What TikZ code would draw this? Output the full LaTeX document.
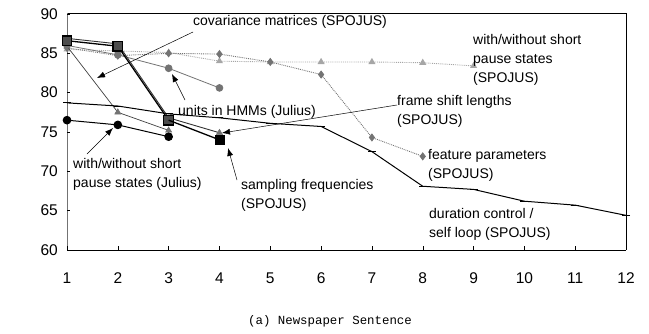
\documentclass[tikz,border=0pt]{standalone}
\usepackage{fontspec}
\setmainfont{Liberation Sans}
\setmonofont{Liberation Mono}
\usetikzlibrary{plotmarks,arrows.meta}

\definecolor{midgray}{gray}{0.45}
\definecolor{litegray}{gray}{0.65}

\tikzset{
  lbl/.style={anchor=north west,inner sep=0pt,align=left,
    font=\fontsize{14bp}{19bp}\selectfont,execute at begin node=\strut},
  ticklbl/.style={inner sep=0pt,font=\fontsize{15.5bp}{17bp}\selectfont},
}

\begin{document}
\begin{tikzpicture}[x=1bp,y=1bp]
\useasboundingbox (0,0) rectangle (649,333);

% plot area
\draw[black,line width=0.6bp] (67,320) -- (626,320) -- (626,83);
\draw[midgray,line width=0.6bp] (67,320) -- (67,83);
\draw[black,line width=0.8bp] (67,83) -- (626,83);

\begin{scope}[shift={(16.18bp,-389.0bp)},x=50.82bp,y=7.867bp]
  % ticks and tick labels
  \foreach \i in {1,...,12} {
    \draw[line width=0.5bp] (\i,60) -- ++(0,4bp);
    \node[ticklbl] (xl\i) at ([yshift=-28bp]\i,60) {\i};
  }
  \foreach \v in {60,65,...,90} {
    \draw[line width=0.5bp] (1,\v) -- ++(3bp,0);
    \node[ticklbl,anchor=east] (yl\v) at ([xshift=-9bp]1,\v) {\v};
  }

  % with/without short pause states (SPOJUS)
  \draw[litegray,densely dotted,line width=0.9bp,
        mark=triangle*,mark size=3.2bp,mark options={solid,fill=litegray,draw=litegray}]
    plot coordinates {(1,85.5) (2,85.3) (3,85.1) (4,84.0) (5,83.9) (6,83.9) (7,83.9) (8,83.8) (9,83.4)};

  % feature parameters (SPOJUS)
  \draw[midgray,densely dotted,line width=0.9bp,
        mark=diamond*,mark size=3.4bp,mark options={solid,fill=midgray,draw=midgray}]
    plot coordinates {(1,85.7) (2,84.7) (3,85.0) (4,84.9) (5,83.9) (6,82.3) (7,74.3) (8,71.9)};

  % units in HMMs (Julius)
  \draw[midgray,line width=0.8bp,
        mark=*,mark size=3.4bp,mark options={fill=midgray,draw=midgray}]
    plot coordinates {(1,86.0) (2,84.8) (3,83.1) (4,80.6)};

  % covariance matrices (SPOJUS)
  \draw[black!75,line width=0.7bp,
        mark=triangle*,mark size=3.4bp,mark options={fill=midgray,draw=midgray}]
    plot coordinates {(1,85.9) (2,77.5) (3,75.2)};

  % frame shift lengths (SPOJUS)
  \draw[black!80,line width=0.9bp] (1,86.9) -- (2,86.2) -- (3,76.8) -- (4,74.9);
  \draw[fill=midgray,draw=midgray] plot[mark=triangle*,mark size=3.6bp] coordinates {(4,74.9)};

  % duration control / self loop (SPOJUS)
  \draw[black,line width=1bp,mark=-,mark size=4bp]
    plot coordinates {(1,78.7) (2,78.3) (3,77.3) (4,76.8) (5,76.1) (6,75.7)
                      (7,72.5) (8,68.1) (9,67.7) (10,66.2) (11,65.7) (12,64.4)};

  % sampling frequencies (SPOJUS)
  \draw[black,line width=1.3bp,
        mark=square*,mark size=4.8bp,mark options={fill=black!70,draw=black}]
    plot coordinates {(1,86.6) (2,85.9) (3,76.5)};
  \draw[black,line width=1.3bp] (3,76.5) -- (4,74.0);
  \draw[fill=black] plot[mark=square*,mark size=4.6bp] coordinates {(4,74.0)};

  % with/without short pause states (Julius)
  \draw[black,line width=1bp,mark=*,mark size=3.8bp,mark options={fill=black}]
    plot coordinates {(1,76.5) (2,75.9) (3,74.4)};
\end{scope}

% labels
\node[lbl] (cov)  at (193,321.3) {covariance matrices (SPOJUS)};
\node[lbl] (spau) at (473,299.3) {with/without short\\pause states\\(SPOJUS)};
\node[lbl] (unit) at (178,231.3) {units in HMMs (Julius)};
\node[lbl] (frm)  at (397,238.3) {frame shift lengths\\(SPOJUS)};
\node[lbl] (feat) at (428,184.3) {feature parameters\\(SPOJUS)};
\node[lbl] (dur)  at (429,125.3) {duration control /\\self loop (SPOJUS)};
\node[lbl] (samp) at (241,154.3) {sampling frequencies\\(SPOJUS)};
\node[lbl] (jpau) at (73,175.3)  {with/without short\\pause states (Julius)};

\node[font=\ttfamily\fontsize{12.4bp}{14bp}\selectfont] (capt) at (330,12) {(a) Newspaper Sentence};

% arrows
\coordinate (covA)  at (193,301);  \coordinate (covB)  at (97,255);
\coordinate (unitA) at (185,233);  \coordinate (unitB) at (172,259);
\coordinate (frmA)  at (397,228);  \coordinate (frmB)  at (222,200);
\coordinate (sampA) at (237,153);  \coordinate (sampB) at (228,185);
\coordinate (jpauA) at (87,179);   \coordinate (jpauB) at (113,205);

\begin{scope}[every edge/.style={draw=black,line width=0.5bp,-{Latex[length=8bp,width=6bp]}}]
  \path (covA)  edge (covB);
  \path (unitA) edge (unitB);
  \path (frmA)  edge (frmB);
  \path (sampA) edge (sampB);
  \path (jpauA) edge (jpauB);
\end{scope}
\end{tikzpicture}
\end{document}
